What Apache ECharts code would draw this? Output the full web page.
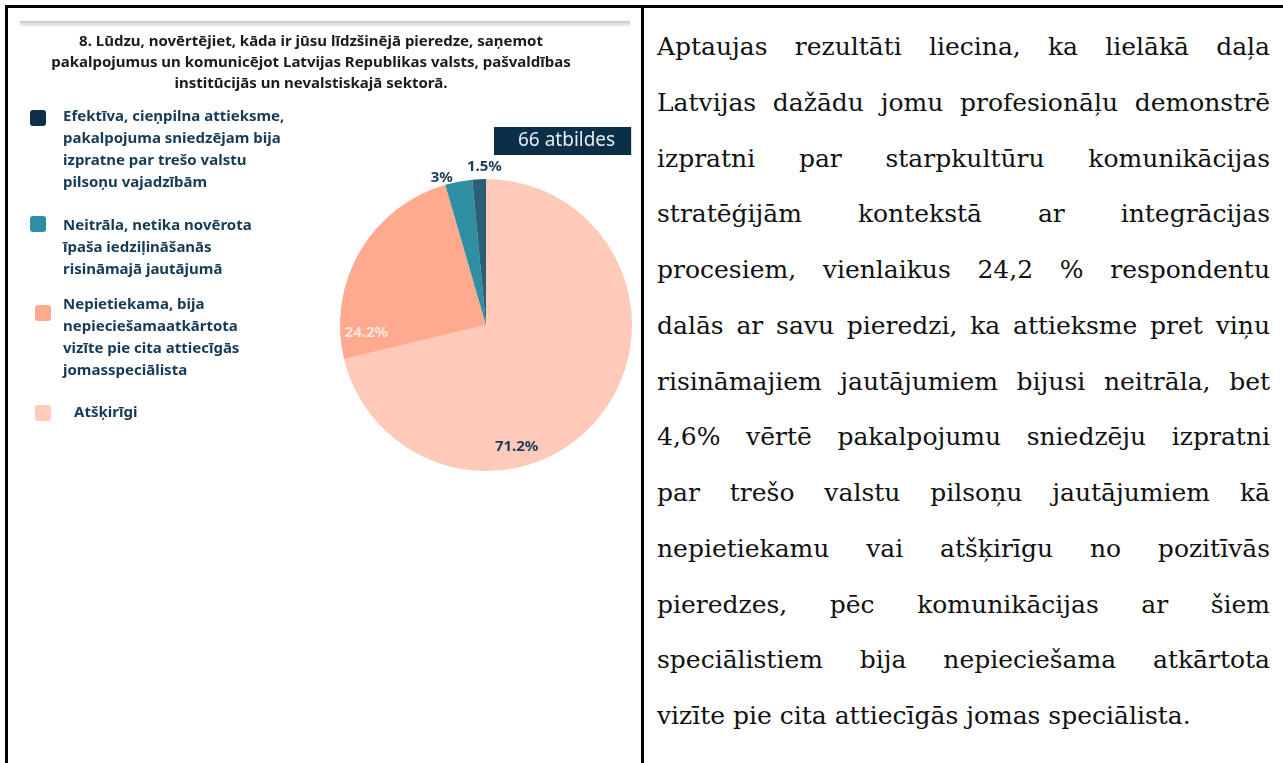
<!DOCTYPE html>
<html lang="lv">
<head>
<meta charset="utf-8">
<title>8. Lūdzu, novērtējiet pieredzi</title>
<script src="https://cdn.jsdelivr.net/npm/echarts@6/dist/echarts.min.js"></script>
<style>
  html, body { margin: 0; padding: 0; background: #fff; }
  body { width: 1283px; height: 763px; position: relative; overflow: hidden; }
  .rule { position: absolute; background: #000; }
  #chart { position: absolute; left: 8px; top: 8px; width: 633px; height: 755px; }
  #text {
    position: absolute; left: 657px; top: 19px; width: 613px;
    font-family: "DejaVu Serif", serif; font-size: 25px; line-height: 55.75px; color: #111;
  }
  #text div { text-align: justify; text-align-last: justify; white-space: nowrap; }
  #text div.last { text-align-last: left; }
</style>
</head>
<body>
<div class="rule" style="left:5px;top:5px;width:1278px;height:3px"></div>
<div class="rule" style="left:5px;top:5px;width:3px;height:758px"></div>
<div class="rule" style="left:641px;top:5px;width:3px;height:758px"></div>
<div id="chart"></div>
<div id="text">
  <div>Aptaujas rezultāti liecina, ka lielākā daļa</div>
  <div>Latvijas dažādu jomu profesionāļu demonstrē</div>
  <div>izpratni par starpkultūru komunikācijas</div>
  <div>stratēģijām kontekstā ar integrācijas</div>
  <div>procesiem, vienlaikus 24,2 % respondentu</div>
  <div>dalās ar savu pieredzi, ka attieksme pret viņu</div>
  <div>risināmajiem jautājumiem bijusi neitrāla, bet</div>
  <div>4,6% vērtē pakalpojumu sniedzēju izpratni</div>
  <div>par trešo valstu pilsoņu jautājumiem kā</div>
  <div>nepietiekamu vai atšķirīgu no pozitīvās</div>
  <div>pieredzes, pēc komunikācijas ar šiem</div>
  <div>speciālistiem bija nepieciešama atkārtota</div>
  <div class="last">vizīte pie cita attiecīgās jomas speciālista.</div>
</div>
<script>
// atbilžu dati (pulksteņrādītāja virzienā no augšas)
const categories = [
  "Atšķirīgi",
  "Nepietiekama, bija\nnepieciešamaatkārtota\nvizīte pie cita attiecīgās\njomasspeciālista",
  "Neitrāla, netika novērota\nīpaša iedziļināšanās\nrisināmajā jautājumā",
  "Efektīva, cieņpilna attieksme,\npakalpojuma sniedzējam bija\nizpratne par trešo valstu\npilsoņu vajadzībām"
];
const percents = [71.2, 24.2, 3, 1.5];
const legendOrder = [3, 2, 1, 0];
const responses = 66;
const questionText = "8. Lūdzu, novērtējiet, kāda ir jūsu līdzšinējā pieredze, saņemot\npakalpojumus un komunicējot Latvijas Republikas valsts, pašvaldības\ninstitūcijās un nevalstiskajā sektorā.";

const sliceColors = ["#ffcab9", "#ffaa8f", "#2e8ea2", "#2b5e77"];
const iconColors = ["#ffcbbc", "#ffa98f", "#2e8fa3", "#0d2f4a"];
const labelColors = ["#1c3d57", "#fde7dc", "#1c3d57", "#1c3d57"];
const labelShift = [[-29, 75], [-54, 46], [-30, -73], [2, -82]]; // no "inside" punkta
const font = '"Noto Sans", sans-serif';
const navy = "#173a55";

// legendas bloki: left, top, ikonas platums, kvadrāta nobīde
const legendBoxes = [
  [22, 98, 28, 4],
  [22, 207, 28, 1],
  [27, 286, 23, 11],
  [27, 394, 34, 3]
];
const lineH = 22;

function iconPath(w, h, dy) {
  // kvadrāts pie pirmās rindas, lieki M punkti tikai izstiepj ikonas rāmi
  return "path://M0,0M" + w + "," + h + "M3," + dy +
    "h10q3,0 3,3v10q0,3 -3,3h-10q-3,0 -3,-3v-10q0,-3 3,-3z";
}

let legends = legendOrder.map(function (idx, k) {
  const b = legendBoxes[k];
  const lines = categories[idx].split("\n").length;
  const h = lines * lineH;
  return {
    left: b[0],
    top: b[1],
    padding: 0,
    orient: "vertical",
    selectedMode: false,
    itemWidth: b[2],
    itemHeight: h,
    data: [{
      name: categories[idx],
      icon: iconPath(b[2], h, b[3]),
      itemStyle: { color: iconColors[idx], borderWidth: 0 }
    }],
    textStyle: {
      fontFamily: font,
      fontWeight: "bold",
      fontSize: 15,
      lineHeight: lineH,
      color: navy
    }
  };
});

let seriesData = [];
for (var i = 0; i < categories.length; i++) {
  seriesData.push({
    name: categories[i],
    value: percents[i],
    itemStyle: { color: sliceColors[i] },
    label: { color: labelColors[i] }
  });
}

let myChart = echarts.init(document.getElementById("chart"));
myChart.setOption({
  animation: false,
  title: [
    {
      text: questionText,
      left: 303,
      top: 23,
      padding: 0,
      textAlign: "center",
      textStyle: {
        fontFamily: font,
        fontWeight: "bold",
        fontSize: 15,
        lineHeight: 21,
        color: "#1b1b1b"
      }
    },
    {
      text: responses + " atbildes",
      left: 486,
      top: 119,
      textAlign: "left",
      padding: [4, 16, 4, 24],
      backgroundColor: "#0b2f48",
      textStyle: {
        fontFamily: font,
        fontWeight: "normal",
        fontSize: 19,
        lineHeight: 20,
        color: "#e6edf2"
      }
    }
  ],
  graphic: [
    {
      type: "rect",
      silent: true,
      shape: { x: 12, y: 13, width: 610, height: 6 },
      style: {
        fill: {
          type: "linear", x: 0, y: 0, x2: 0, y2: 1,
          colorStops: [
            { offset: 0, color: "#c4c4c4" },
            { offset: 1, color: "#fbfbfb" }
          ]
        }
      }
    }
  ],
  legend: legends,
  series: [
    {
      type: "pie",
      center: [478, 317],
      radius: 146,
      clockwise: true,
      startAngle: 90,
      avoidLabelOverlap: false,
      itemStyle: { borderWidth: 0 },
      label: {
        show: true,
        position: "inside",
        formatter: function (p) { return p.value + "%"; },
        fontFamily: font,
        fontWeight: "bold",
        fontSize: 15
      },
      labelLine: { show: false },
      labelLayout: function (params) {
        const s = labelShift[params.dataIndex];
        return { dx: s[0], dy: s[1] };
      },
      emphasis: { disabled: true },
      data: seriesData
    }
  ]
});
window.addEventListener("resize", function () {
  myChart.resize();
});
</script>
</body>
</html>
